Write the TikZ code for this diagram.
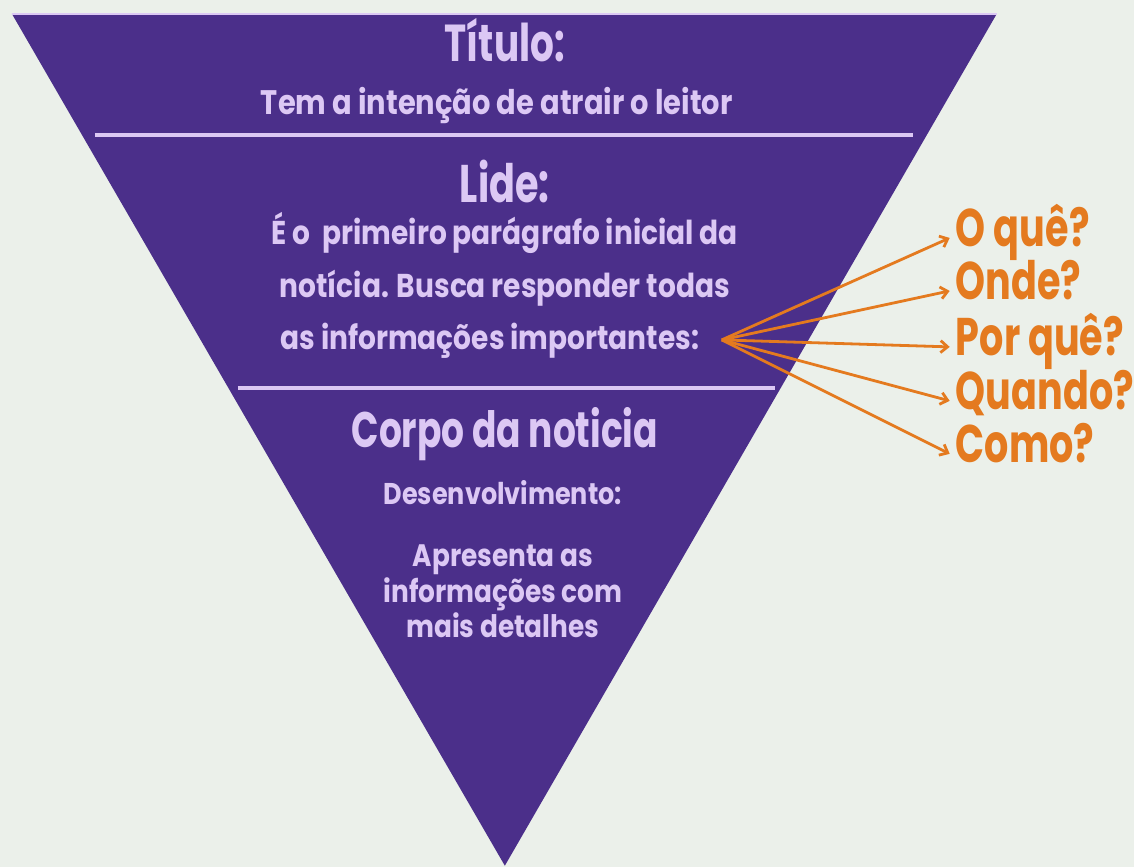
\documentclass[tikz,border=0pt]{standalone}
\usepackage{fontspec}
\newfontfamily\futfont{Poppins}[FakeStretch=0.72]
\newfontfamily\futtxt{Poppins}[FakeStretch=0.85]
\usetikzlibrary{arrows.meta, positioning}
\definecolor{fundo}{HTML}{EBF0EA}
\definecolor{roxo}{HTML}{4B2F8A}
\definecolor{lilas}{HTML}{DCC8F4}
\definecolor{laranja}{HTML}{E47A1F}

\begin{document}
\begin{tikzpicture}[x=1pt, y=-1pt, >={Straight Barb[length=7pt,width=12pt]},
    chefe/.style={text=lilas, inner sep=0pt, anchor=base,
      font=\futfont\bfseries\fontsize{#1}{#1}\selectfont},
    texto/.style={text=lilas, inner sep=0pt, anchor=base,
      font=\futtxt\bfseries\fontsize{#1}{#1}\selectfont},
    pergunta/.style={text=laranja, inner sep=0pt, anchor=base west,
      font=\futfont\bfseries\fontsize{53}{53}\selectfont},
    seta/.style={->, draw=laranja, line width=2.8pt},
    divisa/.style={draw=lilas, line width=3.5pt}]

    % fundo e piramide
    \fill[fundo] (0,0) rectangle (1134,867);
    \coordinate (ve) at (12,14);
    \coordinate (vd) at (997,14);
    \coordinate (vb) at (505,866);
    \fill[roxo] (ve) -- (vd) -- (vb) -- cycle;
    \draw[lilas, line width=1.5pt] (ve) -- (vd);

    % titulo
    \node[chefe=52] (titulo) at (505,62) {Título:};
    \node[texto=34] (titulotxt) at (497,115) {Tem a intenção de atrair o leitor};
    \draw[divisa] (95,135) -- (913,135);

    % lide
    \node[chefe=53] (lide) at (505,203) {Lide:};
    \node[texto=33] (lide1) at (505,245) {É o\ \ primeiro parágrafo inicial da};
    \node[texto=33] (lide2) at (505,298) {notícia. Busca responder todas};
    \node[texto=33] (lide3) at (490,350) {as informações importantes:};
    \draw[divisa] (238,388) -- (775,388);

    % corpo
    \node[chefe=50] (corpo) at (505,448) {Corpo da noticia};
    \node[texto=30] (desenv) at (503,505) {Desenvolvimento:};
    \node[texto=31] (apres1) at (503,567) {Apresenta as};
    \node[texto=31] (apres2) at (503,603) {informações com};
    \node[texto=31] (apres3) at (503,638) {mais detalhes};

    % perguntas
    \coordinate (fonte) at (722,340);
    \node[pergunta] (oque) at (956,247) {O quê?};
    \node[pergunta] (onde) at (956,300) {Onde?};
    \node[pergunta] (porque) at (956,356) {Por quê?};
    \node[pergunta] (quando) at (956,410) {Quando?};
    \node[pergunta] (como) at (956,463) {Como?};

    \foreach \q in {oque, onde, porque, quando, como}
      \draw[seta] (fonte) -- ([shift={(-6,-9)}]\q.base west);

\end{tikzpicture}
\end{document}
